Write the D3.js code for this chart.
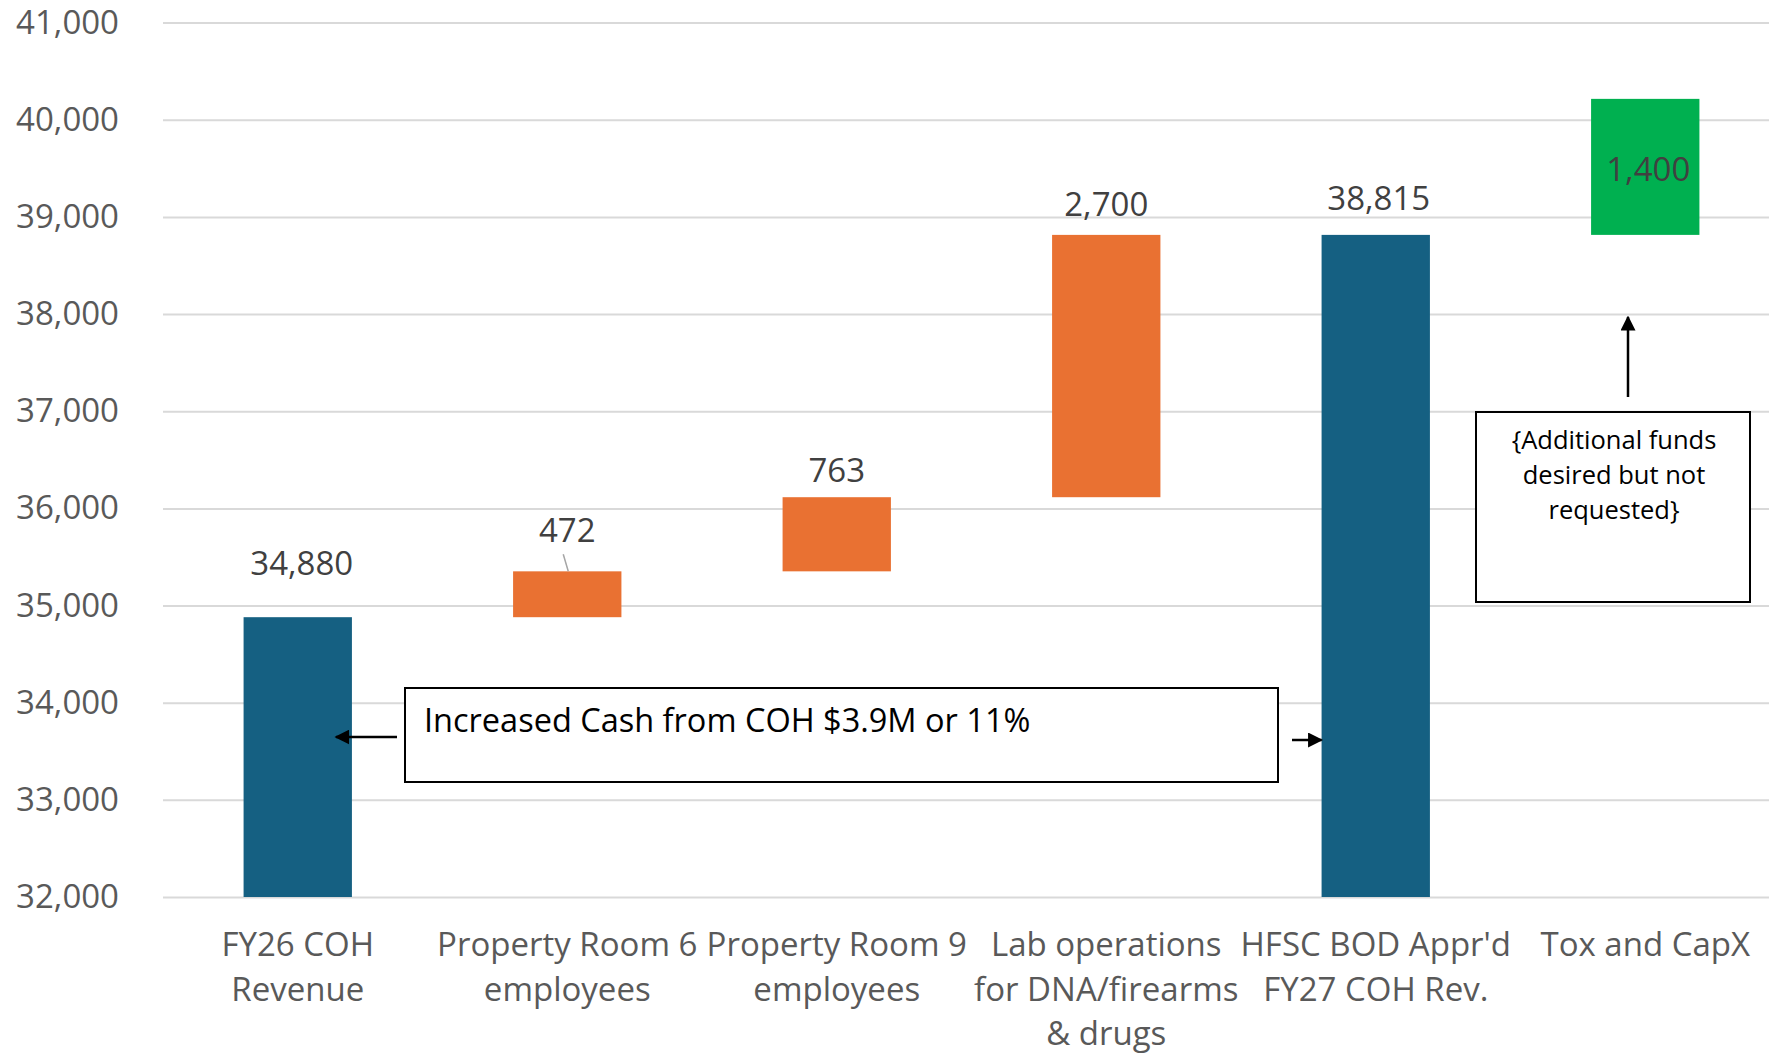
<!DOCTYPE html>
<html lang="en">
<head>
    <meta charset="UTF-8">
    <title>COH Revenue waterfall</title>
    <style>
        html, body {
            margin: 0;
            padding: 0;
            background: #ffffff;
        }

        svg {
            display: block;
            font-family: "Open Sans", sans-serif;
        }
    </style>
</head>
<body>
<svg id="chart"></svg>
<script src="https://cdnjs.cloudflare.com/ajax/libs/d3/7.8.5/d3.min.js" charset="utf-8"></script>
<script>
    "use strict"

    // data
    const categories = ["FY26 COH Revenue", "Property Room 6 employees", "Property Room 9 employees",
        "Lab operations for DNA/firearms & drugs", "HFSC BOD Appr'd FY27 COH Rev.", "Tox and CapX"];
    const categoryLines = [["FY26 COH", "Revenue"], ["Property Room 6", "employees"], ["Property Room 9", "employees"],
        ["Lab operations", "for DNA/firearms", "& drugs"], ["HFSC BOD Appr'd", "FY27 COH Rev."], ["Tox and CapX"]];
    const values = [34880, 472, 763, 2700, 38815, 1400];
    const kinds = ["total", "increase", "increase", "increase", "total", "extra"];
    const yTicks = [32000, 33000, 34000, 35000, 36000, 37000, 38000, 39000, 40000, 41000];

    const colors = {total: "#156082", increase: "#E97132", extra: "#00B050"};

    const W = 1769, H = 1054;
    const plot = {left: 163, right: 1780, top: 22.6, bottom: 897};

    const svg = d3.select("#chart")
        .attr("width", W)
        .attr("height", H);

    // waterfall start / end
    let running = 0;
    const bars = values.map((v, i) => {
        let start, end;
        if (kinds[i] === "total") {
            start = yTicks[0];
            end = v;
            running = v;
        } else {
            start = running;
            end = running + v;
            if (kinds[i] === "increase") running = end;
        }
        return {cat: categories[i], value: v, kind: kinds[i], start: start, end: end};
    });

    const x = d3.scaleBand()
        .domain(categories)
        .range([plot.left, plot.right])
        .padding(0);

    const y = d3.scaleLinear()
        .domain([yTicks[0], yTicks[yTicks.length - 1]])
        .range([plot.bottom, plot.top]);

    const barW = x.bandwidth() * 0.402;

    // grid + y labels
    const yAxis = svg.append("g")
        .attr("transform", `translate(${plot.left},0)`)
        .call(d3.axisLeft(y)
            .tickValues(yTicks)
            .tickFormat(d3.format(","))
            .tickSizeInner(-(W - plot.left))
            .tickSizeOuter(0)
            .tickPadding(44));
    yAxis.select(".domain").remove();
    yAxis.selectAll(".tick line")
        .attr("stroke", "#D9D9D9")
        .attr("stroke-width", 2);
    yAxis.selectAll(".tick text")
        .attr("font-family", "Open Sans")
        .attr("font-size", 33)
        .attr("fill", "#595959");

    // bars
    svg.append("g").selectAll("rect")
        .data(bars)
        .enter()
        .append("rect")
        .attr("x", d => x(d.cat) + (x.bandwidth() - barW) / 2)
        .attr("y", d => y(d.end))
        .attr("width", barW)
        .attr("height", d => y(d.start) - y(d.end))
        .attr("fill", d => colors[d.kind]);

    // value labels (manual nudges as in the original)
    const labelDy = {0: -42, 1: -29, 2: -15, 4: -25};
    const labelDx = {0: 4, 4: 3, 5: 3};
    svg.append("g").selectAll("text")
        .data(bars)
        .enter()
        .append("text")
        .attr("x", (d, i) => x(d.cat) + x.bandwidth() / 2 + (labelDx[i] || 0))
        .attr("y", (d, i) => d.kind === "extra"
            ? (y(d.start) + y(d.end)) / 2 + 14
            : y(d.end) + (labelDy[i] !== undefined ? labelDy[i] : -19))
        .attr("text-anchor", "middle")
        .attr("font-size", 33)
        .attr("fill", "#404040")
        .text(d => d3.format(",")(d.value));

    // leader line for 472
    const b1 = bars[1];
    const cx1 = x(b1.cat) + x.bandwidth() / 2;
    svg.append("line")
        .attr("x1", cx1 - 4)
        .attr("y1", y(b1.end) - 17)
        .attr("x2", cx1 + 1)
        .attr("y2", y(b1.end))
        .attr("stroke", "#A6A6A6")
        .attr("stroke-width", 1.5);

    // category labels
    const xAxis = svg.append("g")
        .attr("transform", `translate(0,${plot.bottom})`)
        .call(d3.axisBottom(x).tickSize(0).tickFormat(""));
    xAxis.select(".domain").remove();
    xAxis.selectAll(".tick").each(function (d, i) {
        const t = d3.select(this).append("text")
            .attr("text-anchor", "middle")
            .attr("font-family", "Open Sans")
            .attr("font-size", 33)
            .attr("fill", "#595959");
        categoryLines[i].forEach((line, k) => {
            t.append("tspan")
                .attr("x", 0)
                .attr("y", 59 + k * 44.5)
                .text(line);
        });
    });

    // arrow marker
    svg.append("defs").append("marker")
        .attr("id", "arrow")
        .attr("viewBox", "0 0 10 10")
        .attr("refX", 9)
        .attr("refY", 5)
        .attr("markerWidth", 6)
        .attr("markerHeight", 6)
        .attr("markerUnits", "strokeWidth")
        .attr("orient", "auto")
        .append("path")
        .attr("d", "M0,0 L10,5 L0,10 z")
        .attr("fill", "#000");

    // annotation: increased cash
    const ann1 = svg.append("g");
    ann1.append("rect")
        .attr("x", 405)
        .attr("y", 688)
        .attr("width", 873)
        .attr("height", 94)
        .attr("fill", "#fff")
        .attr("stroke", "#000")
        .attr("stroke-width", 2);
    ann1.append("text")
        .attr("x", 424)
        .attr("y", 732)
        .attr("font-size", 32.5)
        .attr("fill", "#000")
        .text("Increased Cash from COH $3.9M or 11%");

    const firstBarRight = x(categories[0]) + (x.bandwidth() + barW) / 2;
    const fifthBarLeft = x(categories[4]) + (x.bandwidth() - barW) / 2;
    svg.append("line")
        .attr("x1", 397).attr("y1", 737)
        .attr("x2", firstBarRight - 16).attr("y2", 737)
        .attr("stroke", "#000")
        .attr("stroke-width", 2.5)
        .attr("marker-end", "url(#arrow)");
    svg.append("line")
        .attr("x1", 1292).attr("y1", 740)
        .attr("x2", fifthBarLeft).attr("y2", 740)
        .attr("stroke", "#000")
        .attr("stroke-width", 2.5)
        .attr("marker-end", "url(#arrow)");

    // annotation: additional funds
    const ann2 = svg.append("g");
    ann2.append("rect")
        .attr("x", 1476)
        .attr("y", 412)
        .attr("width", 274)
        .attr("height", 190)
        .attr("fill", "#fff")
        .attr("stroke", "#000")
        .attr("stroke-width", 2);
    const ann2Lines = ["{Additional funds", "desired but not", "requested}"];
    ann2.append("text")
        .attr("text-anchor", "middle")
        .attr("font-size", 25.5)
        .attr("fill", "#000")
        .selectAll("tspan")
        .data(ann2Lines)
        .enter()
        .append("tspan")
        .attr("x", 1614)
        .attr("y", (d, i) => 449 + i * 35)
        .text(d => d);

    svg.append("line")
        .attr("x1", 1628).attr("y1", 397)
        .attr("x2", 1628).attr("y2", 317)
        .attr("stroke", "#000")
        .attr("stroke-width", 2.5)
        .attr("marker-end", "url(#arrow)");
</script>
</body>
</html>
